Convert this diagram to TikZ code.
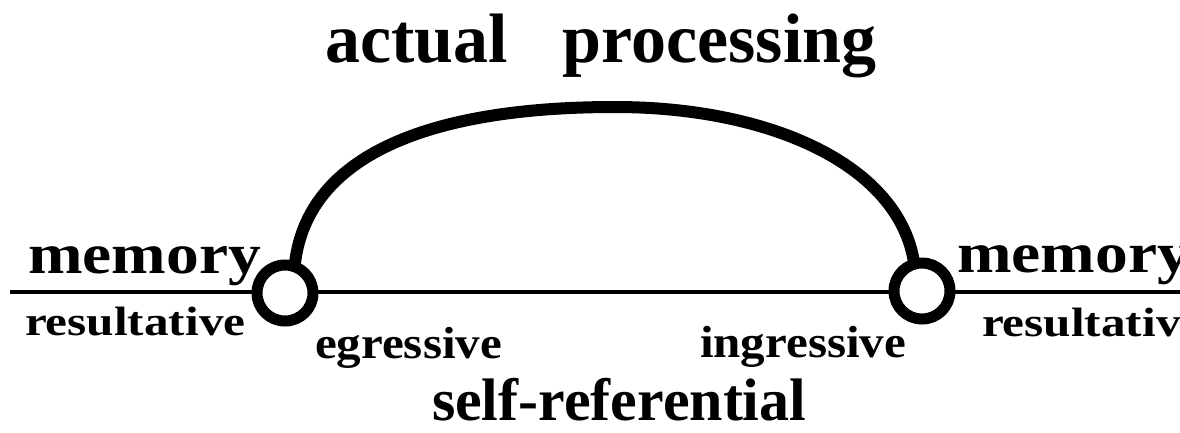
\documentclass[tikz,border=0pt]{standalone}
\usepackage{fontspec}
\setmainfont{Liberation Serif}
\usetikzlibrary{backgrounds}
\tikzset{
  ring/.style={circle, draw, fill=white, line width=11pt, minimum size=56pt, inner sep=0pt, outer sep=0pt},
  lbl/.style={anchor=base west, inner sep=0pt, outer sep=0pt, font=\bfseries},
  axis/.style={line width=4pt},
  bow/.style={line width=12pt},
}
\newcommand{\fs}[1]{\fontsize{#1}{#1}\selectfont}
\begin{document}
\begin{tikzpicture}[x=1pt,y=-1pt]
\useasboundingbox (0,0) rectangle (1180,432);
\clip (0,0) rectangle (1180,432);
\node[ring] (c1) at (285,293) {};
\node[ring] (c2) at (922,291) {};
\coordinate (lstart) at (10,292);
\coordinate (rend) at (1190,292);
\begin{scope}[on background layer]
\fill[white] (0,0) rectangle (1180,432);
\draw[axis] (lstart) -- (rend);
\draw[bow] (c1.70) .. controls (305,160) and (420,107) .. (615,107)
           .. controls (770,107) and (900,165) .. (c2.106);
\end{scope}
\node[lbl] (ap) at (325,62) {\fs{70}actual\hspace{55pt}processing};
\node[lbl] (m1) at (28,273) {\fs{57}\scalebox{1.15}[1]{memory}};
\node[lbl] (m2) at (957,272) {\fs{57}\scalebox{1.15}[1]{memory}};
\node[lbl] (r1) at (25,335) {\fs{41}\scalebox{1.2}[1]{resultative}};
\node[lbl] (r2) at (982,336) {\fs{41}\scalebox{1.2}[1]{resultative}};
\node[lbl] (eg) at (315,358) {\fs{45}\scalebox{1.09}[1]{egressive}};
\node[lbl] (ig) at (700,357) {\fs{45}\scalebox{1.09}[1]{ingressive}};
\node[lbl] (sr) at (432,420) {\fs{60}self-referential};
\end{tikzpicture}
\end{document}
